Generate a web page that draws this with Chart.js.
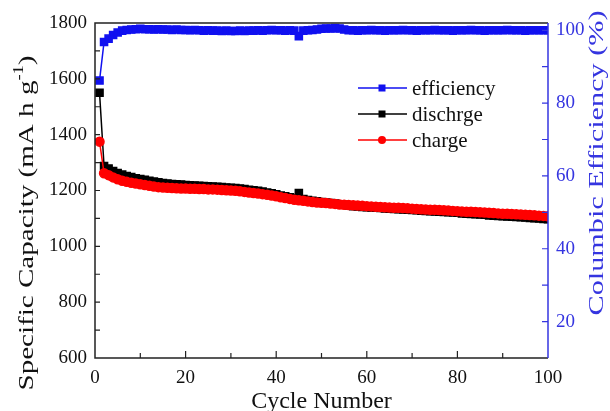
<!DOCTYPE html>
<html>
<head>
<meta charset="utf-8">
<script src="https://cdn.jsdelivr.net/npm/chart.js@4.4.1/dist/chart.umd.min.js"></script>
<style>
  html, body { margin: 0; padding: 0; background: #fff; }
  canvas { display: block; }
</style>
</head>
<body>
<canvas id="capacityChart" width="610" height="411"></canvas>
<script>
// ---- data ----
const cycles = [
  1, 2, 3, 4, 5, 6, 7, 8, 9, 10, 11, 12, 13, 14, 15, 16, 17, 18, 19, 20,
  21, 22, 23, 24, 25, 26, 27, 28, 29, 30, 31, 32, 33, 34, 35, 36, 37, 38, 39, 40,
  41, 42, 43, 44, 45, 46, 47, 48, 49, 50, 51, 52, 53, 54, 55, 56, 57, 58, 59, 60,
  61, 62, 63, 64, 65, 66, 67, 68, 69, 70, 71, 72, 73, 74, 75, 76, 77, 78, 79, 80,
  81, 82, 83, 84, 85, 86, 87, 88, 89, 90, 91, 92, 93, 94, 95, 96, 97, 98, 99, 100
];

// Columbic efficiency (%)
const efficiency = [
  86.2, 96.8, 97.7, 98.7, 99.4, 99.9, 100.1, 100.2, 100.3, 100.4,
  100.3, 100.3, 100.2, 100.3, 100.2, 100.2, 100.1, 100.2, 100.1, 100.1,
  100.0, 100.1, 100.0, 99.9, 100.0, 99.9, 99.9, 99.8, 99.9, 99.8,
  99.8, 99.9, 99.8, 99.9, 99.9, 100.0, 99.9, 100.0, 100.1, 100.0,
  100.0, 99.9, 100.0, 99.9, 98.4, 99.9, 100.0, 100.1, 100.2, 100.4,
  100.5, 100.5, 100.6, 100.5, 100.2, 100.0, 100.0, 99.9, 100.0, 100.0,
  100.1, 100.0, 100.0, 99.9, 100.0, 100.0, 100.0, 100.1, 100.0, 100.0,
  99.9, 100.0, 100.0, 100.0, 100.1, 100.0, 100.0, 100.0, 99.9, 100.0,
  100.0, 100.0, 100.1, 100.0, 100.0, 99.9, 100.0, 100.0, 100.0, 100.0,
  100.1, 100.0, 100.0, 100.0, 99.9, 100.0, 100.0, 100.0, 100.0, 100.0
];

// discharge capacity (mA h g-1)
const discharge = [
  1550, 1288, 1279, 1270, 1263, 1257, 1252, 1248, 1244, 1241,
  1238, 1235, 1232, 1229, 1227, 1225, 1223, 1222, 1221, 1220,
  1219, 1218, 1217, 1216, 1215, 1214, 1213, 1212, 1211, 1210,
  1209, 1207, 1205, 1203, 1201, 1199, 1196, 1193, 1190, 1186,
  1182, 1179, 1176, 1173, 1191, 1169, 1166, 1163, 1161, 1159,
  1157, 1155, 1153, 1151, 1149, 1146, 1144, 1143, 1141, 1140,
  1139, 1138, 1137, 1136, 1135, 1134, 1133, 1132, 1131, 1130,
  1129, 1128, 1127, 1126, 1125, 1124, 1123, 1122, 1121, 1120,
  1118, 1117, 1116, 1115, 1114, 1113, 1111, 1110, 1109, 1108,
  1107, 1106, 1105, 1104, 1103, 1102, 1101, 1100, 1098, 1097
];

// charge capacity (mA h g-1)
const charge = [
  1375, 1262, 1255, 1247, 1240, 1235, 1231, 1228, 1225, 1222,
  1220, 1217, 1214, 1212, 1211, 1210, 1209, 1208, 1207, 1207,
  1206, 1206, 1205, 1205, 1204, 1204, 1203, 1202, 1201, 1200,
  1199, 1197, 1195, 1193, 1191, 1189, 1187, 1185, 1182, 1179,
  1176, 1173, 1170, 1167, 1165, 1163, 1161, 1159, 1157, 1156,
  1155, 1153, 1152, 1150, 1149, 1148, 1147, 1146, 1145, 1144,
  1143, 1142, 1141, 1140, 1139, 1138, 1138, 1137, 1136, 1135,
  1134, 1133, 1132, 1131, 1131, 1130, 1129, 1128, 1127, 1126,
  1125, 1124, 1124, 1123, 1122, 1121, 1120, 1119, 1118, 1117,
  1117, 1116, 1115, 1114, 1113, 1112, 1111, 1110, 1109, 1108
];

const cycleTicks = [0, 20, 40, 60, 80, 100];
const capacityTicks = [600, 800, 1000, 1200, 1400, 1600, 1800];
const efficiencyTicks = [20, 40, 60, 80, 100];

const SERIF = '"Liberation Serif", "Times New Roman", serif';
const AXIS_BLUE = '#3535e0';

const toPoints = arr => cycles.map((c, i) => ({ x: c, y: arr[i] }));
const fixTicks = list => scale => { scale.ticks = list.map(v => ({ value: v })); };
const plainLabel = v => String(v);

/**
 * Frame + inward tick marks (major and minor), drawn by hand
 */
const framePlugin = {
  id: 'frame',
  afterDatasetsDraw(chart) {
    const { ctx, chartArea: a, scales } = chart;
    const { x, y, y1 } = scales;
    ctx.save();
    ctx.lineWidth = 1.5;
    ctx.strokeStyle = '#222';
    ctx.beginPath();
    ctx.moveTo(a.right, a.top);
    ctx.lineTo(a.left, a.top);
    ctx.lineTo(a.left, a.bottom);
    ctx.lineTo(a.right, a.bottom);
    ctx.stroke();

    ctx.lineWidth = 1.2;
    ctx.beginPath();
    for (let v = 700; v < 1800; v += 100) {
      const py = y.getPixelForValue(v);
      ctx.moveTo(a.left, py);
      ctx.lineTo(a.left + 5, py);
    }
    for (let v = 10; v < 100; v += 10) {
      const px = x.getPixelForValue(v);
      ctx.moveTo(px, a.bottom);
      ctx.lineTo(px, a.bottom - (v % 20 === 0 ? 7 : 5));
    }
    ctx.stroke();

    ctx.strokeStyle = AXIS_BLUE;
    ctx.lineWidth = 1.5;
    ctx.beginPath();
    ctx.moveTo(a.right, a.top);
    ctx.lineTo(a.right, a.bottom);
    ctx.stroke();
    ctx.lineWidth = 1.2;
    ctx.beginPath();
    for (let v = 20; v <= 100; v += 10) {
      const py = y1.getPixelForValue(v);
      ctx.moveTo(a.right, py);
      ctx.lineTo(a.right - 6, py);
    }
    ctx.stroke();
    ctx.restore();
  }
};

/**
 * Axis titles (rotated ones read bottom-to-top, like the figure)
 */
function drawStretched(ctx, parts, cx, cy, length, color) {
  ctx.save();
  ctx.fillStyle = color;
  ctx.textBaseline = 'middle';
  ctx.textAlign = 'left';
  let total = 0;
  parts.forEach(p => { ctx.font = p.font; total += ctx.measureText(p.text).width; });
  ctx.translate(cx, cy);
  ctx.rotate(-Math.PI / 2);
  ctx.scale(length / total, 1);
  let pos = -total / 2;
  parts.forEach(p => {
    ctx.font = p.font;
    ctx.fillText(p.text, pos, p.dy || 0);
    pos += ctx.measureText(p.text).width;
  });
  ctx.restore();
}

const titlesPlugin = {
  id: 'titles',
  afterDraw(chart) {
    const { ctx, chartArea: a } = chart;
    const big = `22px ${SERIF}`;
    const small = `14px ${SERIF}`;
    drawStretched(ctx, [
      { text: 'Specific Capacity (mA h g', font: big },
      { text: '-1', font: small, dy: -8 },
      { text: ')', font: big }
    ], 27, 223, 335, '#111');
    drawStretched(ctx, [
      { text: 'Columbic Efficiency (%)', font: big }
    ], 597, 163, 305, AXIS_BLUE);

    ctx.save();
    ctx.font = `24px ${SERIF}`;
    ctx.fillStyle = '#111';
    ctx.textAlign = 'center';
    ctx.textBaseline = 'alphabetic';
    ctx.fillText('Cycle Number', (a.left + a.right) / 2, 408);
    ctx.restore();
  }
};

/**
 * Legend: line through marker, like the Origin style
 */
const legendPlugin = {
  id: 'lineLegend',
  afterDraw(chart) {
    const { ctx } = chart;
    ctx.save();
    ctx.font = `21px ${SERIF}`;
    ctx.textBaseline = 'middle';
    ctx.textAlign = 'left';
    chart.data.datasets.forEach((ds, i) => {
      const yy = 88 + i * 26;
      ctx.strokeStyle = ds.borderColor;
      ctx.lineWidth = 1.5;
      ctx.beginPath();
      ctx.moveTo(358, yy);
      ctx.lineTo(407, yy);
      ctx.stroke();
      ctx.fillStyle = ds.backgroundColor;
      if (ds.pointStyle === 'circle') {
        ctx.beginPath();
        ctx.arc(382, yy, 4, 0, Math.PI * 2);
        ctx.fill();
      } else {
        ctx.fillRect(378.5, yy - 3.5, 7, 7);
      }
      ctx.fillStyle = '#111';
      ctx.fillText(ds.label, 412, yy + 1);
    });
    ctx.restore();
  }
};

const tickFont = { family: SERIF, size: 19 };

new Chart(document.getElementById('capacityChart').getContext('2d'), {
  type: 'line',
  data: {
    datasets: [
      {
        label: 'efficiency', data: toPoints(efficiency), yAxisID: 'y1',
        borderColor: '#1010f0', backgroundColor: '#1010f0',
        pointStyle: 'rect', pointRadius: 5, borderWidth: 1.5, order: 2
      },
      {
        label: 'dischrge', data: toPoints(discharge), yAxisID: 'y',
        borderColor: '#000', backgroundColor: '#000',
        pointStyle: 'rect', pointRadius: 5, borderWidth: 1.5, order: 1
      },
      {
        label: 'charge', data: toPoints(charge), yAxisID: 'y',
        borderColor: '#f00', backgroundColor: '#f00',
        pointStyle: 'circle', pointRadius: 4.5, borderWidth: 1.5, order: 0
      }
    ]
  },
  options: {
    responsive: false,
    animation: false,
    devicePixelRatio: 1,
    layout: { padding: { top: 23, left: 0, right: 0, bottom: 0 } },
    elements: { point: { borderWidth: 0, hoverRadius: 5 }, line: { tension: 0 } },
    scales: {
      x: {
        type: 'linear', min: 0, max: 100,
        afterBuildTicks: fixTicks(cycleTicks),
        afterFit: s => { s.height = 53; },
        grid: { display: false, drawTicks: false },
        border: { display: false },
        ticks: { font: tickFont, color: '#111', padding: 9, maxRotation: 0, callback: plainLabel }
      },
      y: {
        position: 'left', min: 600, max: 1800,
        afterBuildTicks: fixTicks(capacityTicks),
        afterFit: s => { s.width = 95; },
        grid: { display: false, drawTicks: false },
        border: { display: false },
        ticks: { font: tickFont, color: '#111', padding: 8, callback: plainLabel }
      },
      y1: {
        position: 'right', min: 10, max: 102,
        afterBuildTicks: fixTicks(efficiencyTicks),
        afterFit: s => { s.width = 62; },
        grid: { display: false, drawTicks: false },
        border: { display: false },
        ticks: { font: tickFont, color: AXIS_BLUE, padding: 8, callback: plainLabel }
      }
    },
    plugins: {
      legend: { display: false },
      tooltip: { enabled: false }
    }
  },
  plugins: [framePlugin, titlesPlugin, legendPlugin]
});
</script>
</body>
</html>
